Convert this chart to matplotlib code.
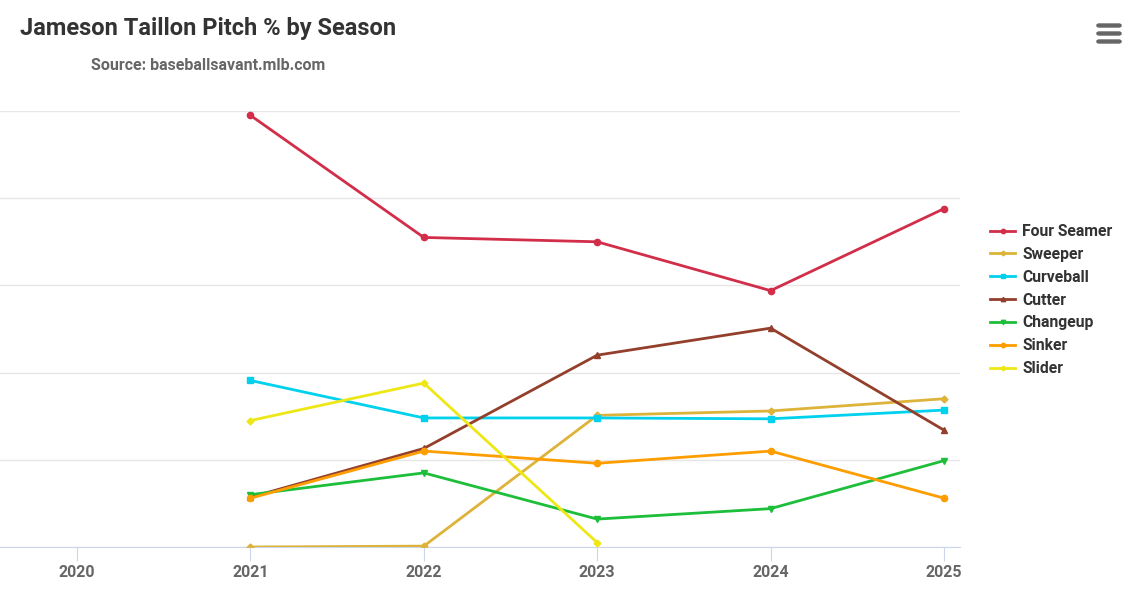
import matplotlib
matplotlib.use("Agg")
import matplotlib.pyplot as plt
from matplotlib.patches import FancyBboxPatch

plt.rcParams['font.family'] = ['Roboto', 'DejaVu Sans']

seasons = [2020, 2021, 2022, 2023, 2024, 2025]

four_seamer = [None, 49.5, 35.5, 35.0, 29.4, 38.8]
sweeper = [None, 0.0, 0.1, 15.1, 15.6, 17.0]
curveball = [None, 19.1, 14.8, 14.8, 14.7, 15.7]
cutter = [None, 5.7, 11.3, 22.0, 25.1, 13.4]
changeup = [None, 6.0, 8.5, 3.2, 4.4, 9.9]
sinker = [None, 5.6, 11.0, 9.6, 11.0, 5.6]
slider = [None, 14.5, 18.8, 0.5, None, None]

series = [
    ("Four Seamer", four_seamer, "#d22d49", "o"),
    ("Sweeper", sweeper, "#ddb33a", "D"),
    ("Curveball", curveball, "#00d1ed", "s"),
    ("Cutter", cutter, "#933f2c", "^"),
    ("Changeup", changeup, "#1dbe3a", "v"),
    ("Sinker", sinker, "#fe9d00", "o"),
    ("Slider", slider, "#eee716", "D"),
]

fig = plt.figure(figsize=(11.26, 5.98), dpi=100)
ax = fig.add_axes([0.0, 51 / 598, 960 / 1126, 436 / 598])

for name, vals, col, mk in series:
    xs = [s for s, v in zip(seasons, vals) if v is not None]
    ys = [v for v in vals if v is not None]
    ms = 3.5 if mk == "D" else 4.5
    ax.plot(xs, ys, color=col, lw=2.0, marker=mk, ms=ms, label=name, zorder=3)

ax.set_xlim(2020 - 77 / 173.4, 2025 + 16 / 173.4)
ax.set_ylim(0, 50)
ax.set_yticks([0, 10, 20, 30, 40, 50])
ax.set_yticklabels([])
ax.tick_params(axis='y', length=0)
ax.grid(axis='y', color='#e6e6e6', lw=1)
ax.set_xticks(seasons)
ax.set_xticklabels([str(s) for s in seasons], fontsize=11.5, fontweight='bold', color='#666666')
ax.tick_params(axis='x', length=10, color='#ccd6eb', pad=3)
for sp in ['top', 'right', 'left']:
    ax.spines[sp].set_visible(False)
ax.spines['bottom'].set_color('#ccd6eb')
ax.set_axisbelow(True)

leg = fig.legend(loc='upper left', bbox_to_anchor=(990 / 1126, 1 - 224 / 598), frameon=False,
                 prop={'size': 11.3, 'weight': 'bold'}, handlelength=1.6, handletextpad=0.45,
                 labelspacing=0.5, markerscale=0.7, borderpad=0, borderaxespad=0)
for t in leg.get_texts():
    t.set_color('#333333')

fig.text(20 / 1126, 1 - 29 / 598, "Jameson Taillon Pitch % by Season", fontsize=17, fontweight='bold',
         color='#333333', va='center', ha='left')
fig.text(91 / 1126, 1 - 65 / 598, "Source: baseballsavant.mlb.com", fontsize=11.5, fontweight='bold',
         color='#666666', va='center', ha='left')

# menu icon
for yy in (25, 33, 41):
    fig.patches.append(FancyBboxPatch((1097 / 1126, 1 - (yy + 2) / 598), 24 / 1126, 3 / 598,
                                      boxstyle="round,pad=0,rounding_size=0.002",
                                      transform=fig.transFigure, color='#666666'))

fig.savefig("out.png", dpi=100)
